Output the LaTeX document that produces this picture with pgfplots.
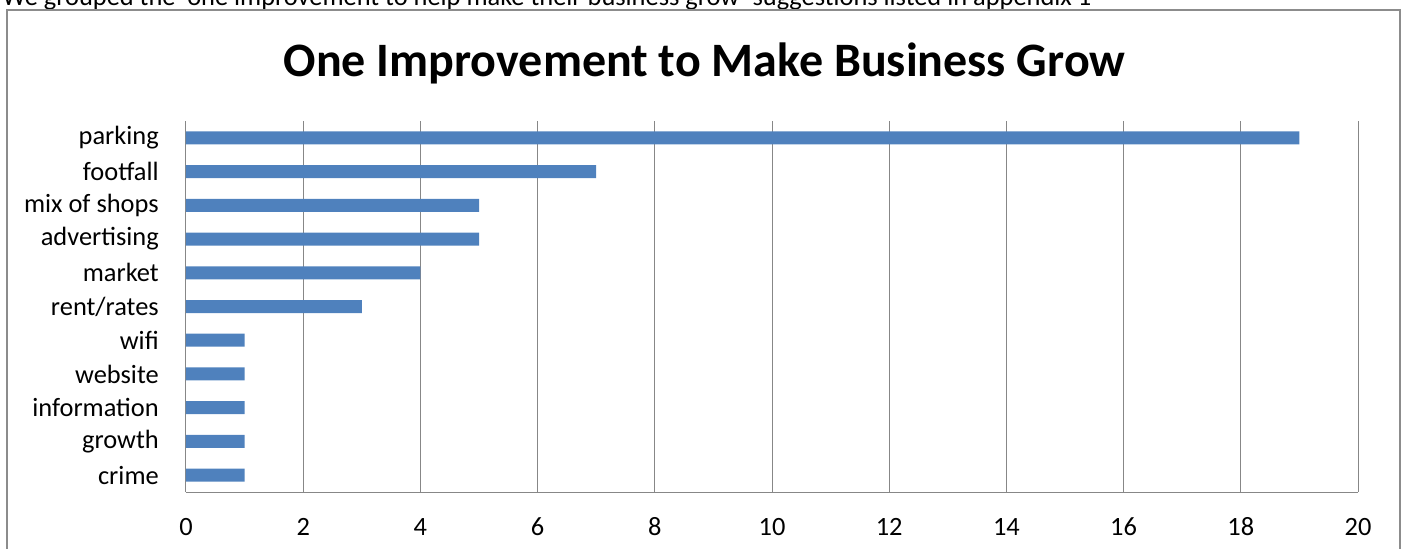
\documentclass[border=0pt]{standalone}
\usepackage{fontspec}
\setmainfont{Carlito}
\usepackage{pgfplots}
\pgfplotsset{compat=1.18}
\definecolor{barblue}{HTML}{4F81BD}
\definecolor{gridgrey}{HTML}{878787}
\definecolor{framegrey}{HTML}{8C8C8C}
\begin{document}
\begin{tikzpicture}
\path[use as bounding box] (0,0) rectangle (1055.25pt,-411.75pt);
\clip (0,0) rectangle (1055.25pt,-411.75pt);
\node[anchor=base west, inner sep=0pt, font=\fontsize{19.8}{23}\selectfont] at (1.5pt,-4pt)
  {We grouped the `one improvement to help make their business grow' suggestions listed in appendix 1};
\draw[framegrey, line width=1.5pt] (5.25pt,-7.5pt) rectangle (1050pt,-430pt);
\node[anchor=center, inner sep=0pt, font=\fontsize{36}{40}\bfseries\selectfont] at (528.4pt,-47.6pt)
  {One Improvement to Make Business Grow};
\begin{axis}[
  at={(139.5pt,-369pt)}, anchor=south west,
  scale only axis, width=879pt, height=278.25pt,
  xmin=0, xmax=20, ymin=-0.5, ymax=10.5,
  xbar, bar width=9.75pt,
  xtick={0,2,...,20},
  ytick={0,...,10},
  yticklabels={crime,growth,information,website,wifi,rent/rates,market,advertising,mix of shops,footfall,parking},
  xmajorgrids, grid style={gridgrey, line width=0.75pt},
  axis x line*=bottom, axis y line*=left,
  axis line style={gridgrey, line width=0.75pt, -},
  major tick length=0pt, tick style={draw=none},
  tick label style={font=\fontsize{19.8}{23}\selectfont, inner sep=0pt},
  xticklabel style={anchor=base, yshift=-32.25pt},
  yticklabel style={anchor=east, xshift=-20.25pt},
  /pgf/number format/assume math mode=true,
  clip=false,
]
\addplot[fill=barblue, draw=none] coordinates {
(1,0) (1,1) (1,2) (1,3) (1,4) (3,5) (4,6) (5,7) (5,8) (7,9) (19,10)
};
\end{axis}
\end{tikzpicture}
\end{document}
